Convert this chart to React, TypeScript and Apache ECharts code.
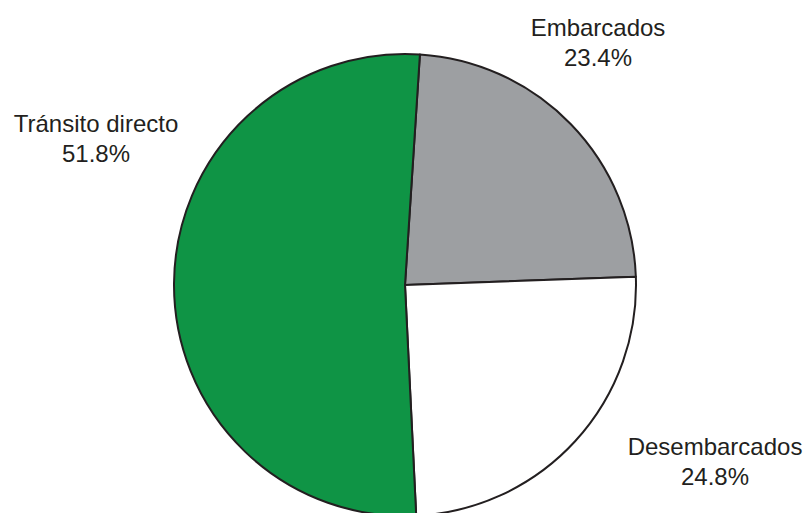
import React, { useEffect, useRef } from "react";
import * as echarts from "echarts";

const categories = ["Embarcados", "Desembarcados", "Tránsito directo"];
const values = [23.4, 24.8, 51.8];
const colors = ["#9d9fa2", "#ffffff", "#0f9445"];
const labelSpots = [
  [598, 42],
  [715, 461],
  [96, 138],
];

export default function App() {
  const ref = useRef<HTMLDivElement>(null);
  useEffect(() => {
    if (!ref.current) return;
    const chart = echarts.init(ref.current, null, { renderer: "svg" });
    chart.setOption({
      animation: false,
      backgroundColor: "#ffffff",
      series: [
        {
          type: "pie",
          center: [405, 285],
          radius: 231,
          startAngle: 86.3,
          clockwise: true,
          avoidLabelOverlap: false,
          itemStyle: { borderColor: "#231f20", borderWidth: 2 },
          label: {
            show: true,
            position: "outside",
            fontFamily: "Liberation Sans, Arial, sans-serif",
            fontSize: 24,
            lineHeight: 30,
            color: "#231f20",
            align: "center",
            formatter: (p: any) => `${p.name}\n${Number(p.value).toFixed(1)}%`,
          },
          labelLine: { show: false },
          labelLayout: (p: any) => ({
            x: labelSpots[p.dataIndex][0],
            y: labelSpots[p.dataIndex][1],
            align: "center",
            verticalAlign: "middle",
          }),
          emphasis: { disabled: true },
          data: categories.map((c, i) => ({
            name: c,
            value: values[i],
            itemStyle: { color: colors[i] },
          })),
        },
      ],
    });
    return () => chart.dispose();
  }, []);
  return (
    <div
      ref={ref}
      style={{ position: "fixed", left: 0, top: 0, width: 809, height: 513 }}
    />
  );
}
